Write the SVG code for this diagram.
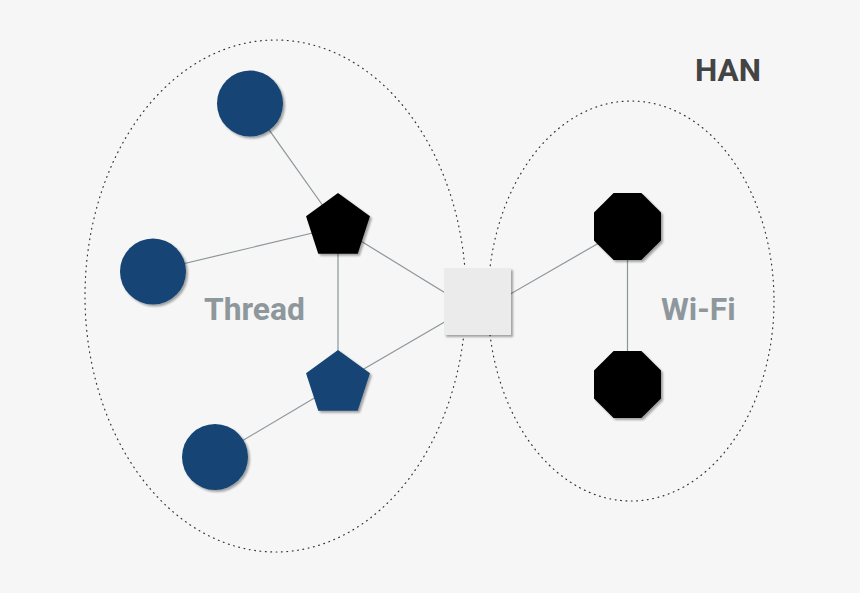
<svg xmlns="http://www.w3.org/2000/svg" xmlns:xlink="http://www.w3.org/1999/xlink" width="860" height="593" viewBox="0 0 860 593">
<style>
.zone{fill:none;stroke:#333;stroke-width:1.2;stroke-dasharray:0.8 4.6;stroke-linecap:round}
.edge{stroke:#8d969b;stroke-width:1.2;fill:none}
.blue{fill:#134574}
.black{fill:#000}
.hub{fill:#ebebeb}
.label{font-family:Roboto,"Liberation Sans",sans-serif;font-weight:bold;font-size:31.8px;fill:#8e979c}
.title{font-family:Roboto,"Liberation Sans",sans-serif;font-weight:bold;font-size:31.5px;fill:#444}
</style>
<defs>
<filter id="sh" x="-20%" y="-20%" width="150%" height="150%">
<feGaussianBlur in="SourceAlpha" stdDeviation="1.2"/>
<feOffset dx="1.5" dy="1.5" result="b"/>
<feComponentTransfer><feFuncA type="linear" slope="0.35"/></feComponentTransfer>
<feMerge><feMergeNode/><feMergeNode in="SourceGraphic"/></feMerge>
</filter>
<polygon id="pent" points="0,-33.6 31.95,-10.4 19.75,27.2 -19.75,27.2 -31.95,-10.4"/>
<polygon id="oct" points="-13.9,-33.5 13.9,-33.5 33.5,-13.9 33.5,13.9 13.9,33.5 -13.9,33.5 -33.5,13.9 -33.5,-13.9"/>
</defs>
<rect width="860" height="593" fill="#f6f6f6"/>
<g id="zones">
<ellipse class="zone" cx="275.5" cy="296" rx="190.5" ry="256"/>
<ellipse class="zone" cx="631" cy="301" rx="143" ry="200"/>
</g>
<g id="connectors">
<line class="edge" x1="250" y1="103" x2="338" y2="227"/>
<line class="edge" x1="153" y1="271" x2="338" y2="227"/>
<line class="edge" x1="338" y1="227" x2="338" y2="384"/>
<line class="edge" x1="338" y1="227" x2="460" y2="302"/>
<line class="edge" x1="338" y1="384" x2="460" y2="313"/>
<line class="edge" x1="215" y1="457" x2="338" y2="384"/>
<line class="edge" x1="500" y1="300" x2="627.5" y2="226.5"/>
<line class="edge" x1="627.5" y1="226.5" x2="627.5" y2="384.5"/>
</g>
<g id="node-circle1"><circle class="blue" cx="250" cy="103.5" r="33" filter="url(#sh)"/></g>
<g id="node-circle2"><circle class="blue" cx="153" cy="271.5" r="33" filter="url(#sh)"/></g>
<g id="node-circle3"><circle class="blue" cx="215" cy="457" r="33" filter="url(#sh)"/></g>
<g id="node-pent-black"><use xlink:href="#pent" href="#pent" class="black" x="338" y="226.6" filter="url(#sh)"/></g>
<g id="node-pent-blue"><use xlink:href="#pent" href="#pent" class="blue" x="338" y="383.6" filter="url(#sh)"/></g>
<g id="node-hub"><rect class="hub" x="444" y="268" width="67" height="67" filter="url(#sh)"/></g>
<g id="node-oct1"><use xlink:href="#oct" href="#oct" class="black" x="627.5" y="226.5" filter="url(#sh)"/></g>
<g id="node-oct2"><use xlink:href="#oct" href="#oct" class="black" x="627.5" y="384.5" filter="url(#sh)"/></g>
<g id="labels">
<text class="label" x="204" y="319.5">Thread</text>
<text class="label" x="661" y="319.5">Wi-Fi</text>
<text class="title" x="695" y="81">HAN</text>
</g>
</svg>
